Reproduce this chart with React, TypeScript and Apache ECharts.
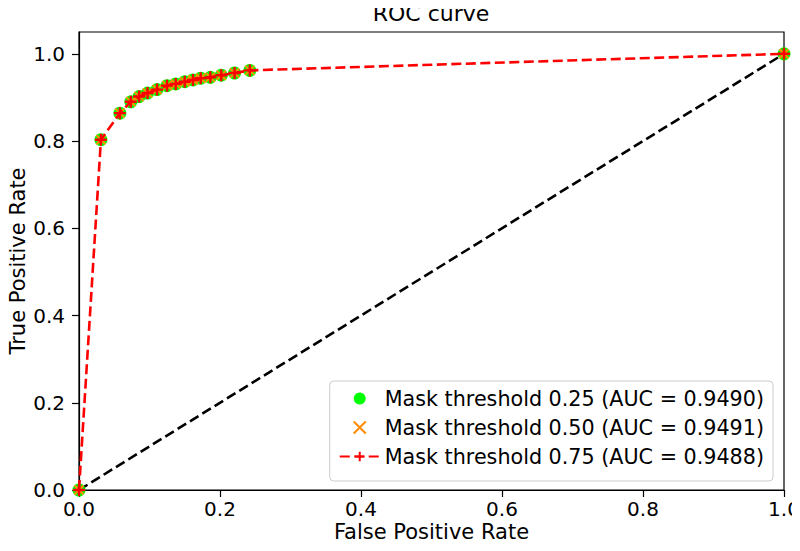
import React, { useEffect, useRef } from "react";
import * as echarts from "echarts";

const fpr = [0, 0.0311, 0.058, 0.0735, 0.0853, 0.0972, 0.1107, 0.1249, 0.1372, 0.150, 0.1617, 0.1726, 0.1863, 0.2018, 0.2207, 0.2423, 1.0];
const tpr25 = [0, 0.803, 0.864, 0.890, 0.902, 0.910, 0.918, 0.927, 0.931, 0.936, 0.940, 0.944, 0.946, 0.951, 0.956, 0.962, 1.0];
const tpr50 = [0, 0.803, 0.864, 0.890, 0.902, 0.910, 0.918, 0.927, 0.931, 0.936, 0.940, 0.944, 0.946, 0.951, 0.956, 0.962, 1.0];
const tpr75 = [0, 0.803, 0.864, 0.890, 0.902, 0.910, 0.918, 0.927, 0.931, 0.936, 0.940, 0.944, 0.946, 0.951, 0.956, 0.962, 1.0];
const diagonal = [[0, 0], [1, 1]];
const seriesNames = [
  "Mask threshold 0.25 (AUC = 0.9490)",
  "Mask threshold 0.50 (AUC = 0.9491)",
  "Mask threshold 0.75 (AUC = 0.9488)",
];
const tickValues = [0, 0.2, 0.4, 0.6, 0.8, 1.0];
const chartTitle = "ROC curve";

const FONT = "DejaVu Sans";
const X_SYMBOL = "path://M0,0L10,10M10,0L0,10";
const PLUS_SYMBOL = "path://M5,0L5,10M0,5L10,5";

const pair = (xs: number[], ys: number[]) => xs.map((x, i) => [x, ys[i]]);

export default function App() {
  const ref = useRef<HTMLDivElement>(null);
  useEffect(() => {
    if (!ref.current) return;
    const chart = echarts.init(ref.current, undefined, { renderer: "svg" });
    chart.setOption({
      animation: false,
      backgroundColor: "#fff",
      graphic: [
        {
          type: "text",
          x: 431,
          y: 2,
          z: 10,
          style: {
            text: chartTitle,
            fontFamily: FONT,
            fontSize: 22,
            fill: "#000",
            align: "center",
            verticalAlign: "top",
          },
        },
      ],
      grid: {
        left: 79,
        right: 16,
        top: 32,
        bottom: 61,
        show: true,
        borderColor: "#000",
        borderWidth: 1.2,
        backgroundColor: "transparent",
        outerBoundsMode: "none",
        containLabel: false,
      },
      legend: {
        orient: "vertical",
        right: 27,
        top: 381,
        data: seriesNames,
        itemWidth: 40,
        itemHeight: 12,
        itemGap: 8,
        padding: [7, 9, 14, 9],
        borderColor: "#cccccc",
        borderWidth: 1,
        borderRadius: 4,
        backgroundColor: "rgba(255,255,255,0.8)",
        textStyle: { fontFamily: FONT, fontSize: 20.7, color: "#000" },
      },
      xAxis: {
        type: "value",
        min: 0,
        max: 1,
        interval: 0.2,
        name: "False Positive Rate",
        nameLocation: "middle",
        nameGap: 31,
        nameMoveOverlap: false,
        nameTextStyle: { fontFamily: FONT, fontSize: 21, color: "#000" },
        axisLine: { lineStyle: { color: "#000", width: 1.2 } },
        axisTick: { show: true, length: 7, lineStyle: { color: "#000", width: 1.2 } },
        axisLabel: {
          fontFamily: FONT,
          fontSize: 20,
          color: "#000",
          margin: 9,
          formatter: (v: number) => v.toFixed(1),
        },
        splitLine: { show: false },
      },
      yAxis: {
        type: "value",
        min: 0,
        max: 1.05,
        interval: 0.2,
        name: "True Positive Rate",
        nameLocation: "middle",
        nameGap: 51,
        nameMoveOverlap: false,
        nameTextStyle: { fontFamily: FONT, fontSize: 21, color: "#000" },
        axisLine: { show: true, lineStyle: { color: "#000", width: 1.2 } },
        axisTick: { show: true, length: 7, customValues: tickValues, lineStyle: { color: "#000", width: 1.2 } },
        axisLabel: {
          fontFamily: FONT,
          fontSize: 20,
          color: "#000",
          margin: 14,
          customValues: tickValues,
          formatter: (v: number) => v.toFixed(1),
        },
        splitLine: { show: false },
      },
      series: [
        {
          name: "diagonal",
          type: "line",
          data: diagonal,
          showSymbol: false,
          symbol: "none",
          lineStyle: { color: "#000", width: 2.6, type: [10, 4.5] },
          z: 1,
          silent: true,
        },
        {
          name: seriesNames[0],
          type: "scatter",
          data: pair(fpr, tpr25),
          symbol: "circle",
          symbolSize: 13,
          itemStyle: { color: "#00ff00", opacity: 1 },
          z: 2,
        },
        {
          name: seriesNames[1],
          type: "scatter",
          data: pair(fpr, tpr50),
          symbol: X_SYMBOL,
          symbolSize: 9,
          itemStyle: { color: "#ff8c00", borderColor: "#ff8c00", borderWidth: 2, opacity: 1 },
          z: 3,
        },
        {
          name: seriesNames[2],
          type: "line",
          data: pair(fpr, tpr75),
          symbol: PLUS_SYMBOL,
          symbolSize: 12,
          showAllSymbol: true,
          lineStyle: { color: "#ff0000", width: 2.6, type: [10, 4.5] },
          itemStyle: { color: "#ff0000", borderColor: "#ff0000", borderWidth: 2.4 },
          z: 4,
        },
      ],
    });
    return () => chart.dispose();
  }, []);
  return <div ref={ref} style={{ width: 800, height: 551, margin: -8 }} />;
}
